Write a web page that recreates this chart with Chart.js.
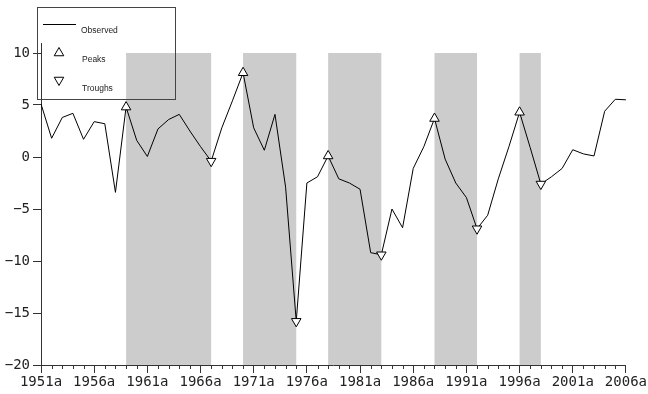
<!DOCTYPE html>
<html>
<head>
<meta charset="utf-8">
<script src="https://cdn.jsdelivr.net/npm/chart.js@4/dist/chart.umd.min.js"></script>
<style>
  html, body { margin: 0; padding: 0; background: #fff; }
</style>
</head>
<body>
<canvas id="c" width="648" height="394"></canvas>
<script>
var years = [];
for (var y = 1951; y <= 2006; y++) years.push(y);
var observed = [
  5.1, 1.8, 3.8, 4.2, 1.7, 3.4, 3.2, -3.4, 4.8, 1.6,
  0.05, 2.7, 3.6, 4.1, 2.5, 1.0, -0.4, 2.8, 5.4, 8.1,
  2.8, 0.65, 4.1, -2.9, -15.8, -2.5, -1.9, 0.1, -2.1, -2.5,
  -3.1, -9.2, -9.4, -5.0, -6.8, -1.1, 1.0, 3.7, -0.2, -2.5,
  -3.9, -6.9, -5.6, -2.1, 1.0, 4.3, 0.9, -2.6, -1.9, -1.1,
  0.7, 0.3, 0.1, 4.4, 5.55, 5.5
];
// turning points
var peakYears = [1959, 1970, 1978, 1988, 1996];
var troughYears = [1967, 1975, 1983, 1992, 1998];
// axis ticks
var xLabelYears = [1951, 1956, 1961, 1966, 1971, 1976, 1981, 1986, 1991, 1996, 2001, 2006];
var yTicks = [-20, -15, -10, -5, 0, 5, 10];

var axisColor = '#333';
var monoFont = { family: '"DejaVu Sans Mono", monospace', size: 14 };

function pts(list) {
  return list.map(function (yr) { return { x: yr, y: observed[years.indexOf(yr)] }; });
}

// grey shading from each peak to the following trough
var bandsPlugin = {
  id: 'bands',
  beforeDatasetsDraw: function (chart) {
    var ctx = chart.ctx, xs = chart.scales.x, ys = chart.scales.y;
    ctx.save();
    ctx.fillStyle = '#cccccc';
    for (var i = 0; i < peakYears.length; i++) {
      var x0 = xs.getPixelForValue(peakYears[i]);
      var x1 = xs.getPixelForValue(troughYears[i]);
      var t = ys.getPixelForValue(10), b = ys.getPixelForValue(-20);
      ctx.fillRect(x0, t, x1 - x0, b - t);
    }
    ctx.restore();
  }
};

// minor year ticks, axis extension and legend box
var extrasPlugin = {
  id: 'extras',
  afterDraw: function (chart) {
    var ctx = chart.ctx, xs = chart.scales.x, area = chart.chartArea;
    ctx.save();
    ctx.strokeStyle = axisColor;
    ctx.lineWidth = 1;
    ctx.beginPath();
    years.forEach(function (yr) {
      if (xLabelYears.indexOf(yr) >= 0) return;
      var px = Math.round(xs.getPixelForValue(yr)) + 0.5;
      ctx.moveTo(px, area.bottom);
      ctx.lineTo(px, area.bottom + 4);
    });
    var lx = Math.round(area.left) + 0.5;
    ctx.moveTo(lx, area.top);
    ctx.lineTo(lx, area.top - 10);
    ctx.stroke();

    // legend
    ctx.strokeStyle = '#444';
    ctx.strokeRect(37.5, 7.5, 138, 92);
    ctx.strokeStyle = '#000';
    ctx.beginPath();
    ctx.moveTo(43, 24.5);
    ctx.lineTo(76, 24.5);
    ctx.stroke();
    ctx.fillStyle = '#fff';
    ctx.strokeStyle = '#000';
    Chart.helpers.drawPoint(ctx, { pointStyle: 'triangle', radius: 5.5, rotation: 0, borderWidth: 1 }, 59, 53);
    Chart.helpers.drawPoint(ctx, { pointStyle: 'triangle', radius: 5.5, rotation: 180, borderWidth: 1 }, 59, 80);
    ctx.fillStyle = '#222';
    ctx.font = '8.5px "Liberation Sans", Arial, sans-serif';
    ctx.textBaseline = 'middle';
    ctx.fillText('Observed', 81, 31);
    ctx.fillText('Peaks', 82, 60);
    ctx.fillText('Troughs', 82, 89);
    ctx.restore();
  }
};

new Chart(document.getElementById('c'), {
  type: 'line',
  data: {
    datasets: [
      {
        label: 'Peaks',
        data: pts(peakYears),
        showLine: false,
        pointStyle: 'triangle',
        pointRadius: 5.5,
        pointRotation: 0,
        pointBackgroundColor: '#fff',
        pointBorderColor: '#000',
        pointBorderWidth: 1
      },
      {
        label: 'Troughs',
        data: pts(troughYears),
        showLine: false,
        pointStyle: 'triangle',
        pointRadius: 5.5,
        pointRotation: 180,
        pointBackgroundColor: '#fff',
        pointBorderColor: '#000',
        pointBorderWidth: 1
      },
      {
        label: 'Observed',
        data: years.map(function (yr, i) { return { x: yr, y: observed[i] }; }),
        borderColor: '#000',
        borderWidth: 1,
        pointRadius: 0,
        tension: 0,
        fill: false
      }
    ]
  },
  options: {
    responsive: false,
    animation: false,
    devicePixelRatio: 1,
    layout: { padding: { top: 53, right: 22, left: 0, bottom: 0 } },
    plugins: { legend: { display: false }, tooltip: { enabled: false } },
    scales: {
      x: {
        type: 'linear',
        min: 1951,
        max: 2006,
        afterBuildTicks: function (s) { s.ticks = xLabelYears.map(function (v) { return { value: v }; }); },
        afterFit: function (s) { s.height = 29; },
        grid: { drawOnChartArea: false, tickLength: 8, color: axisColor },
        border: { display: true, color: axisColor },
        ticks: {
          autoSkip: false, maxRotation: 0, padding: 1, color: '#222', font: monoFont,
          callback: function (v) { return v + 'a'; }
        }
      },
      y: {
        min: -20,
        max: 10,
        afterBuildTicks: function (s) { s.ticks = yTicks.map(function (v) { return { value: v }; }); },
        afterFit: function (s) { s.width = 41; },
        grid: { drawOnChartArea: false, tickLength: 8, color: axisColor },
        border: { display: true, color: axisColor },
        ticks: {
          padding: 3, color: '#222', font: monoFont,
          callback: function (v) { return v < 0 ? '\u2212' + (-v) : String(v); }
        }
      }
    }
  },
  plugins: [bandsPlugin, extrasPlugin]
});
</script>
</body>
</html>
